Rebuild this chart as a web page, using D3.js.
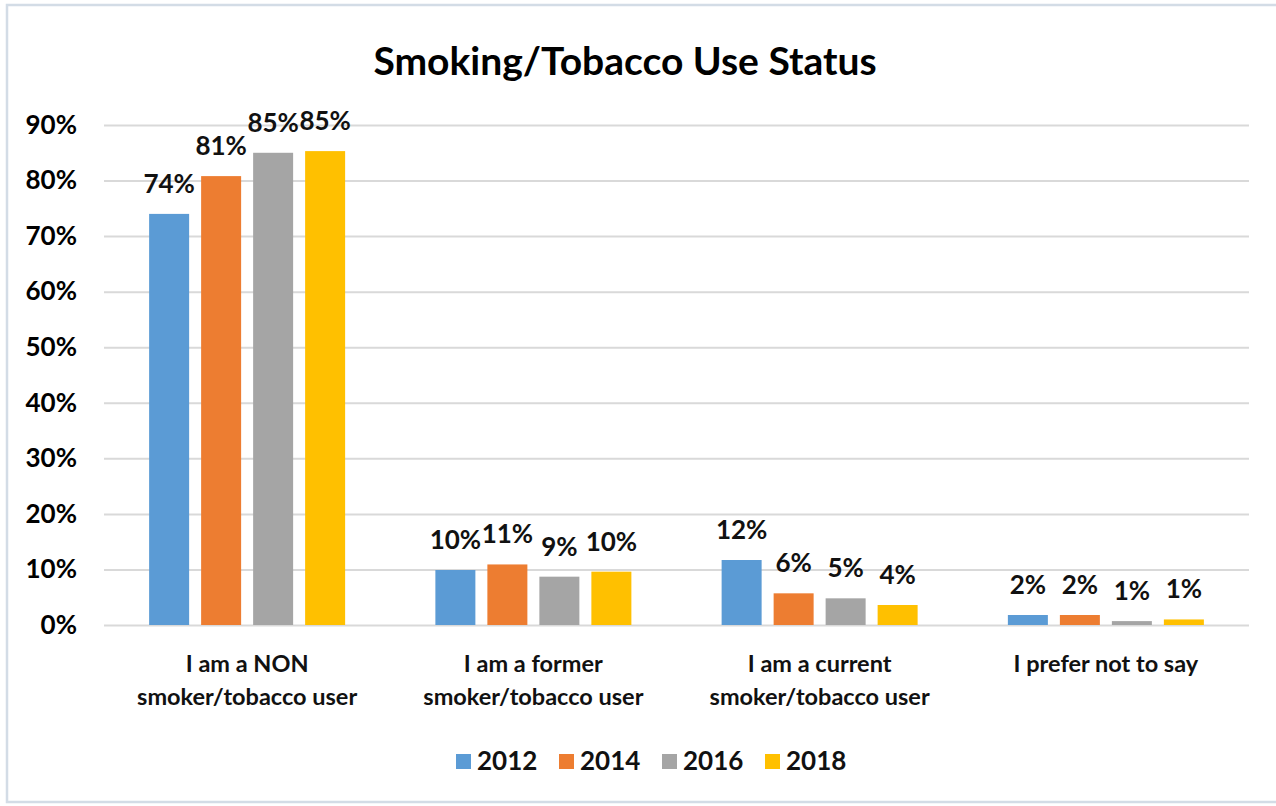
<!DOCTYPE html>
<html>
<head>
<meta charset="utf-8">
<script src="https://cdn.jsdelivr.net/npm/d3@7"></script>
<style>
  html, body { margin: 0; padding: 0; background: #fff; }
  svg { display: block; font-family: Lato, "Open Sans", sans-serif; }
</style>
</head>
<body>
<svg id="chart" width="1276" height="806"></svg>
<script>
// Survey responses by year
const categories = [
  ["I am a NON", "smoker/tobacco user"],
  ["I am a former", "smoker/tobacco user"],
  ["I am a current", "smoker/tobacco user"],
  ["I prefer not to say"]
];
const years = ["2012", "2014", "2016", "2018"];
const values2012 = [0.740, 0.099, 0.117, 0.018];
const values2014 = [0.808, 0.109, 0.057, 0.018];
const values2016 = [0.850, 0.087, 0.048, 0.007];
const values2018 = [0.853, 0.096, 0.036, 0.010];
const yTicks = [0, 0.1, 0.2, 0.3, 0.4, 0.5, 0.6, 0.7, 0.8, 0.9];
const colors = ["#5B9BD5", "#ED7D31", "#A5A5A5", "#FFC000"];

const series = [values2012, values2014, values2016, values2018];
const catKeys = categories.map(c => c.join(" "));

const svg = d3.select("#chart");
const W = 1276, H = 806;
const plot = { left: 104, right: 1249, top: 125, bottom: 625 };

// Chart frame
svg.append("rect")
  .attr("x", 7).attr("y", 5)
  .attr("width", W + 10).attr("height", 797)
  .attr("fill", "#fff")
  .attr("stroke", "#D3DCE6").attr("stroke-width", 2.5);

// Title
svg.append("text")
  .attr("x", 625).attr("y", 75)
  .attr("text-anchor", "middle")
  .attr("font-size", 39).attr("font-weight", "bold")
  .attr("fill", "#000")
  .text("Smoking/Tobacco Use Status");

const y = d3.scaleLinear().domain([0, 0.9]).range([plot.bottom, plot.top]);
const x0 = d3.scaleBand().domain(catKeys).range([plot.left, plot.right]);
const groupW = 196;
const x1 = d3.scaleBand().domain(years)
  .range([(x0.bandwidth() - groupW) / 2, (x0.bandwidth() + groupW) / 2])
  .paddingInner(12 / 52);

// Gridlines and y tick labels
const yAxis = d3.axisLeft(y)
  .tickValues(yTicks)
  .tickFormat(d3.format(".0%"))
  .tickSize(-(plot.right - plot.left))
  .tickPadding(27);
const gy = svg.append("g")
  .attr("transform", `translate(${plot.left},0)`)
  .call(yAxis);
gy.select(".domain").remove();
gy.selectAll(".tick line").attr("stroke", "#D9D9D9").attr("stroke-width", 2);
gy.selectAll(".tick text")
  .attr("font-family", "Lato, sans-serif")
  .attr("font-size", 26).attr("font-weight", "bold").attr("fill", "#000");

// Bars and value labels
const groups = svg.append("g").selectAll("g")
  .data(catKeys)
  .join("g")
  .attr("transform", d => `translate(${x0(d)},0)`);

groups.each(function(cat, ci) {
  const g = d3.select(this);
  const rows = years.map((yr, si) => ({ yr, si, v: series[si][ci] }));
  g.selectAll("rect")
    .data(rows)
    .join("rect")
    .attr("x", d => x1(d.yr))
    .attr("width", x1.bandwidth())
    .attr("y", d => y(d.v))
    .attr("height", d => y(0) - y(d.v))
    .attr("fill", d => colors[d.si]);
  g.selectAll("text.val")
    .data(rows)
    .join("text")
    .attr("class", "val")
    .attr("x", d => x1(d.yr) + x1.bandwidth() / 2)
    .attr("y", d => y(d.v) - 21)
    .attr("text-anchor", "middle")
    .attr("font-size", 26).attr("font-weight", "bold").attr("fill", "#111")
    .text(d => d3.format(".0%")(d.v));
});

// Category labels
const catLabels = svg.append("g").selectAll("text")
  .data(categories)
  .join("text")
  .attr("x", (d, i) => x0(catKeys[i]) + x0.bandwidth() / 2)
  .attr("y", 672)
  .attr("text-anchor", "middle")
  .attr("font-size", 23.5).attr("font-weight", "bold").attr("fill", "#111");
catLabels.each(function(lines) {
  const t = d3.select(this);
  const cx = t.attr("x");
  lines.forEach((ln, i) => {
    t.append("tspan").attr("x", cx).attr("dy", i === 0 ? 0 : 33).text(ln);
  });
});

// Legend
const legend = svg.append("g").selectAll("g")
  .data(years)
  .join("g")
  .attr("transform", (d, i) => `translate(${456 + i * 103},754)`);
legend.append("rect")
  .attr("width", 15).attr("height", 15)
  .attr("fill", (d, i) => colors[i]);
legend.append("text")
  .attr("x", 21).attr("y", 16)
  .attr("font-size", 26).attr("font-weight", "bold").attr("fill", "#111")
  .text(d => d);
</script>
</body>
</html>
